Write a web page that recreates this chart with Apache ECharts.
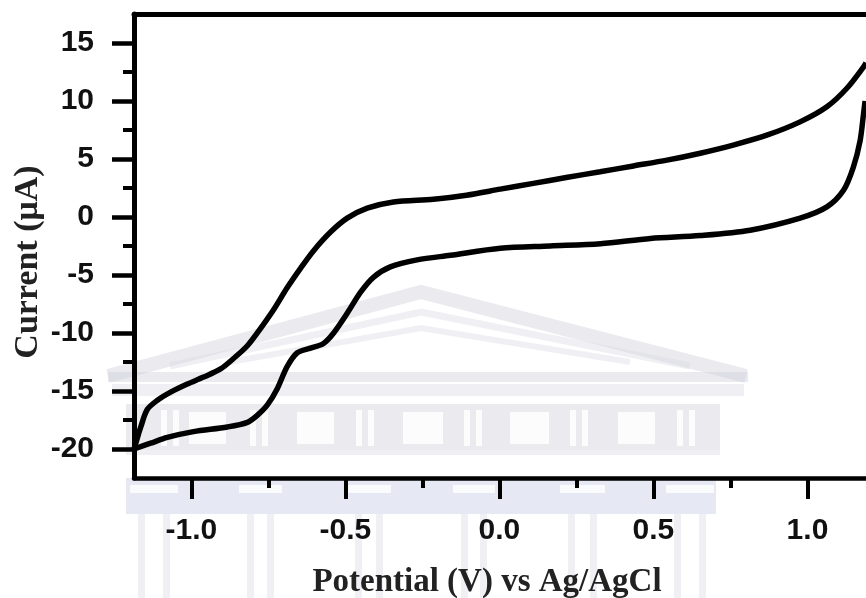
<!DOCTYPE html>
<html>
<head>
<meta charset="utf-8">
<script src="https://cdn.jsdelivr.net/npm/echarts@6/dist/echarts.min.js"></script>
<style>
html,body{margin:0;padding:0;background:#fff;}
#chart{width:866px;height:598px;}
</style>
</head>
<body>
<div id="chart"></div>
<script>
// Potential (V) vs Ag/AgCl, Current (uA)
var upperPotential = [-1.186,-1.178,-1.164,-1.143,-1.110,-1.067,-1.013,-0.960,-0.905,-0.863,-0.818,-0.775,-0.733,-0.689,-0.645,-0.603,-0.548,-0.494,-0.429,-0.344,-0.214,-0.107,0.003,0.110,0.217,0.327,0.435,0.544,0.652,0.759,0.868,0.976,1.063,1.128,1.181,1.190];
var upperCurrent   = [-20.0,-19.3,-18.1,-16.6,-15.8,-15.1,-14.4,-13.8,-13.1,-12.2,-11.1,-9.6,-8.0,-6.1,-4.4,-2.9,-1.3,-0.1,0.76,1.3,1.53,1.88,2.4,2.9,3.4,3.9,4.4,4.9,5.5,6.2,7.05,8.2,9.5,11.1,12.9,13.3];
var lowerPotential = [-1.186,-1.132,-1.078,-0.993,-0.883,-0.818,-0.786,-0.753,-0.721,-0.689,-0.656,-0.613,-0.571,-0.538,-0.494,-0.451,-0.409,-0.354,-0.267,-0.159,0.003,0.165,0.328,0.490,0.652,0.814,0.976,1.063,1.117,1.149,1.171,1.182,1.187];
var lowerCurrent   = [-20.0,-19.5,-19.0,-18.5,-18.1,-17.7,-17.1,-16.2,-14.8,-12.9,-11.7,-11.3,-10.9,-10.0,-8.3,-6.5,-5.2,-4.3,-3.7,-3.3,-2.7,-2.5,-2.3,-1.85,-1.6,-1.14,-0.1,0.87,2.3,4.3,6.6,8.9,10.0];
var xMajorTicks = [-1.0,-0.5,0.0,0.5,1.0];
var xMinorTicks = [-0.75,-0.25,0.25,0.75];
var yMajorTicks = [-20,-15,-10,-5,0,5,10,15];
var yMinorTicks = [-17.5,-12.5,-7.5,-2.5,2.5,7.5,12.5];
var xTitle = 'Potential (V) vs Ag/AgCl';
var yTitle = 'Current (\u03bcA)';

function pairs(xs, ys){ return xs.map(function(x,i){ return [x, ys[i]]; }); }

var chart = echarts.init(document.getElementById('chart'), null, {renderer:'canvas'});
var axisColor = '#000';
var labelFont = {fontFamily:'Liberation Sans, Arial, sans-serif', fontWeight:'bold', fontSize:30, color:'#111'};
var X0 = -1.186, X1 = 1.19, Y0 = -22.5, Y1 = 17.5;

// faint background watermark (decorative building outline)
var wm = 'rgba(205,206,216,0.42)';
var wmLight = 'rgba(215,216,226,0.38)';
var wmBlue = 'rgba(196,200,226,0.42)';
var watermark = [
  {type:'polyline', shape:{points:[[108,376],[421,292],[746,376]]}, style:{stroke:wm, lineWidth:14, fill:null}},
  {type:'polyline', shape:{points:[[170,366],[421,312],[690,366]]}, style:{stroke:wmLight, lineWidth:7, fill:null}},
  {type:'polyline', shape:{points:[[230,362],[421,328],[630,362]]}, style:{stroke:wmLight, lineWidth:6, fill:null}},
  {type:'rect', shape:{x:108, y:372, width:640, height:10}, style:{fill:wm}},
  {type:'rect', shape:{x:112, y:384, width:632, height:12}, style:{fill:wmLight}},
  {type:'rect', shape:{x:126, y:404, width:594, height:46}, style:{fill:wm}},
  {type:'rect', shape:{x:126, y:450, width:594, height:5}, style:{fill:wmLight}},
  {type:'rect', shape:{x:126, y:478, width:590, height:36}, style:{fill:wmBlue}}
];
var metopes = [[189,37],[297,37],[403,40],[510,39],[618,37]];
metopes.forEach(function(m){ watermark.push({type:'rect', shape:{x:m[0], y:412, width:m[1], height:32}, style:{fill:'rgba(255,255,255,0.85)'}}); });
var triglyphs = [161,250,356,464,570,677];
triglyphs.forEach(function(t){
  watermark.push({type:'rect', shape:{x:t, y:410, width:6, height:36}, style:{fill:'rgba(255,255,255,0.85)'}});
  watermark.push({type:'rect', shape:{x:t+12, y:410, width:6, height:36}, style:{fill:'rgba(255,255,255,0.85)'}});
});
var columns = [[130,48],[239,43],[347,44],[453,42],[560,45],[666,48]];
columns.forEach(function(c){
  watermark.push({type:'rect', shape:{x:c[0], y:485, width:c[1], height:8}, style:{fill:'rgba(255,255,255,0.8)'}});
  watermark.push({type:'rect', shape:{x:c[0]+8, y:514, width:7, height:84}, style:{fill:wmLight}});
  watermark.push({type:'rect', shape:{x:c[0]+c[1]-15, y:514, width:7, height:84}, style:{fill:wmLight}});
});
watermark.forEach(function(w){ w.z = -10; w.silent = true; });

chart.setOption({
  animation:false,
  backgroundColor:'#fff',
  grid:{left:134, right:0, top:14, bottom:120, containLabel:false},
  xAxis:[
    {type:'value', position:'bottom', min:X0, max:X1,
     axisLine:{show:true, onZero:false, lineStyle:{color:axisColor, width:4.5}},
     axisTick:{show:true, inside:false, length:21, customValues:xMajorTicks, lineStyle:{color:axisColor, width:4}},
     axisLabel:Object.assign({show:true, margin:38, customValues:xMajorTicks,
       formatter:function(v){ return v.toFixed(1); }}, labelFont),
     splitLine:{show:false}},
    {type:'value', position:'bottom', min:X0, max:X1,
     axisLine:{show:false, onZero:false},
     axisTick:{show:true, inside:false, length:10, customValues:xMinorTicks, lineStyle:{color:axisColor, width:4}},
     axisLabel:{show:false}, splitLine:{show:false}},
    {type:'value', position:'top', min:X0, max:X1,
     axisLine:{show:true, onZero:false, lineStyle:{color:axisColor, width:5}},
     axisTick:{show:false}, axisLabel:{show:false}, splitLine:{show:false}}
  ],
  yAxis:[
    {type:'value', min:Y0, max:Y1, position:'left',
     axisLine:{show:true, onZero:false, lineStyle:{color:axisColor, width:5}},
     axisTick:{show:true, inside:false, length:22, customValues:yMajorTicks, lineStyle:{color:axisColor, width:4.5}},
     axisLabel:Object.assign({show:true, margin:40, customValues:yMajorTicks}, labelFont),
     splitLine:{show:false}},
    {type:'value', min:Y0, max:Y1, position:'left',
     axisLine:{show:false, onZero:false},
     axisTick:{show:true, inside:false, length:11, customValues:yMinorTicks, lineStyle:{color:axisColor, width:4}},
     axisLabel:{show:false}, splitLine:{show:false}}
  ],
  graphic:watermark.concat([
    {type:'text', x:487, y:582, z:10, style:{text:xTitle, x:0, y:0, textAlign:'center', textVerticalAlign:'middle',
      font:'bold 33px "Liberation Serif", "Times New Roman", serif', fill:'#222'}},
    {type:'text', x:28, y:262, z:10, rotation:Math.PI/2, style:{text:yTitle, x:0, y:0, textAlign:'center', textVerticalAlign:'middle',
      font:'bold 34px "Liberation Serif", "Times New Roman", serif', fill:'#222'}}
  ]),
  series:[
    {type:'line', xAxisIndex:0, yAxisIndex:0, data:pairs(upperPotential, upperCurrent), showSymbol:false, z:5,
     smooth:0.3, lineStyle:{color:'#000', width:5.5}, clip:true},
    {type:'line', xAxisIndex:0, yAxisIndex:0, data:pairs(lowerPotential, lowerCurrent), showSymbol:false, z:5,
     smooth:0.3, lineStyle:{color:'#000', width:5.5}, clip:true}
  ]
});
</script>
</body>
</html>
